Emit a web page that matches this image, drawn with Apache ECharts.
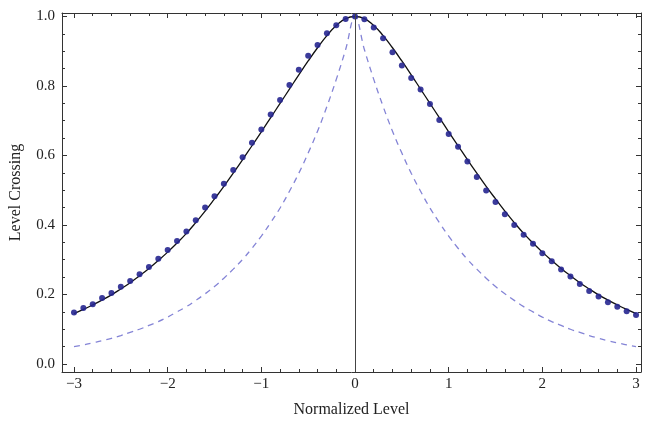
<!DOCTYPE html>
<html>
<head>
<meta charset="utf-8">
<script src="https://cdn.jsdelivr.net/npm/echarts@6/dist/echarts.min.js"></script>
<style>html,body{margin:0;padding:0;background:#fff}#c{width:645px;height:423px}</style>
</head>
<body>
<div id="c"></div>
<script>
// x sampling grid (Normalized Level)
const levels = [-3.0,-2.9,-2.8,-2.7,-2.6,-2.5,-2.4,-2.3,-2.2,-2.1,-2.0,-1.9,-1.8,-1.7,-1.6,-1.5,-1.4,-1.3,-1.2,-1.1,-1.0,-0.9,-0.8,-0.7,-0.6,-0.5,-0.4,-0.3,-0.2,-0.1,0.0,0.1,0.2,0.3,0.4,0.5,0.6,0.7,0.8,0.9,1.0,1.1,1.2,1.3,1.4,1.5,1.6,1.7,1.8,1.9,2.0,2.1,2.2,2.3,2.4,2.5,2.6,2.7,2.8,2.9,3.0];
// simulated level crossing (dots)
const dotValues = [0.148,0.161,0.172,0.190,0.204,0.222,0.239,0.258,0.279,0.303,0.328,0.354,0.381,0.414,0.450,0.483,0.519,0.558,0.595,0.637,0.675,0.718,0.760,0.803,0.847,0.887,0.918,0.952,0.975,0.993,1.000,0.992,0.968,0.937,0.897,0.859,0.823,0.790,0.748,0.702,0.662,0.625,0.583,0.538,0.499,0.466,0.431,0.400,0.372,0.346,0.319,0.296,0.272,0.252,0.230,0.210,0.194,0.178,0.165,0.152,0.141];
// theoretical curve (solid black)
const curveValues = [0.145,0.157,0.170,0.184,0.199,0.216,0.234,0.254,0.275,0.298,0.322,0.348,0.376,0.407,0.440,0.475,0.511,0.549,0.588,0.628,0.668,0.709,0.750,0.791,0.832,0.872,0.910,0.945,0.974,0.994,1.000,0.994,0.974,0.945,0.910,0.872,0.832,0.791,0.750,0.709,0.668,0.628,0.588,0.549,0.511,0.475,0.440,0.407,0.376,0.348,0.322,0.298,0.275,0.254,0.234,0.216,0.199,0.184,0.170,0.157,0.145];
// comparison curve (dashed)
const dashedValues = [0.050,0.055,0.061,0.067,0.074,0.082,0.091,0.100,0.111,0.122,0.135,0.150,0.165,0.183,0.202,0.223,0.247,0.273,0.301,0.333,0.368,0.407,0.449,0.497,0.549,0.607,0.670,0.741,0.819,0.905,1.000,0.905,0.819,0.741,0.670,0.607,0.549,0.497,0.449,0.407,0.368,0.333,0.301,0.273,0.247,0.223,0.202,0.183,0.165,0.150,0.135,0.122,0.111,0.100,0.091,0.082,0.074,0.067,0.061,0.055,0.050];
// ticks
const xMajorTicks = [-3,-2,-1,0,1,2,3];
const xMinorTicks = [-2.8,-2.6,-2.4,-2.2,-1.8,-1.6,-1.4,-1.2,-0.8,-0.6,-0.4,-0.2,0.2,0.4,0.6,0.8,1.2,1.4,1.6,1.8,2.2,2.4,2.6,2.8];
const yMajorTicks = [0.0,0.2,0.4,0.6,0.8,1.0];
const yMinorTicks = [0.05,0.1,0.15,0.25,0.3,0.35,0.45,0.5,0.55,0.65,0.7,0.75,0.85,0.9,0.95];

const XMIN = -3.128, XMAX = 3.053, YMIN = -0.023, YMAX = 1.010;
const FONT = 'Liberation Serif';
const frameColor = '#333';

function xAx(pos, ticks, len, labels, showLine) {
  return {
    type: 'value', position: pos, min: XMIN, max: XMAX,
    axisLine: {show: showLine, onZero: false, lineStyle: {color: frameColor, width: 1}},
    axisTick: {show: true, inside: true, length: len, customValues: ticks, lineStyle: {color: frameColor, width: 1}},
    axisLabel: labels ? {show: true, customValues: ticks, color: '#222', fontFamily: FONT, fontSize: 15, margin: 5,
      formatter: v => String(v).replace('-', '\u2212')} : {show: false},
    splitLine: {show: false}
  };
}
function yAx(pos, ticks, len, labels, showLine) {
  return {
    type: 'value', position: pos, min: YMIN, max: YMAX,
    axisLine: {show: showLine, onZero: false, lineStyle: {color: frameColor, width: 1}},
    axisTick: {show: true, inside: true, length: len, customValues: ticks, lineStyle: {color: frameColor, width: 1}},
    axisLabel: labels ? {show: true, customValues: ticks, color: '#222', fontFamily: FONT, fontSize: 15, margin: 7,
      formatter: v => v.toFixed(1)} : {show: false},
    splitLine: {show: false}
  };
}

const xAxes = [xAx('bottom', xMajorTicks, 5, true, true), xAx('bottom', xMinorTicks, 3, false, false),
               xAx('top', xMajorTicks, 5, false, true), xAx('top', xMinorTicks, 3, false, false)];
xAxes[0].name = 'Normalized Level';
xAxes[0].nameLocation = 'middle';
xAxes[0].nameGap = 30;
xAxes[0].nameTextStyle = {fontFamily: FONT, fontSize: 16, color: '#222'};
const yAxes = [yAx('left', yMajorTicks, 5, true, true), yAx('left', yMinorTicks, 3, false, false),
               yAx('right', yMajorTicks, 5, false, true), yAx('right', yMinorTicks, 3, false, false)];
yAxes[0].name = 'Level Crossing';
yAxes[0].nameLocation = 'middle';
yAxes[0].nameGap = 38;
yAxes[0].nameTextStyle = {fontFamily: FONT, fontSize: 16, color: '#222'};

const chart = echarts.init(document.getElementById('c'), null, {renderer: 'canvas'});
chart.setOption({
  animation: false,
  backgroundColor: '#fff',
  grid: {left: 62, right: 4, top: 13, bottom: 50, containLabel: false},
  xAxis: xAxes,
  yAxis: yAxes,
  series: [
    {
      type: 'line', data: levels.map((x, i) => [x, dashedValues[i]]), smooth: 0.4, showSymbol: false,
      lineStyle: {color: '#8484d6', width: 1.3, type: [6, 5]}, z: 2,
      markLine: {silent: true, symbol: 'none', label: {show: false},
        lineStyle: {color: '#444', width: 1, type: 'solid'}, data: [{xAxis: 0}]}
    },
    {
      type: 'line', data: levels.map((x, i) => [x, curveValues[i]]), smooth: 0.5, showSymbol: false,
      lineStyle: {color: '#111', width: 1.3}, z: 3
    },
    {
      type: 'scatter', data: levels.map((x, i) => [x, dotValues[i]]), symbolSize: 6,
      itemStyle: {color: '#262690', opacity: 0.9}, z: 4
    }
  ]
});
</script>
</body>
</html>
